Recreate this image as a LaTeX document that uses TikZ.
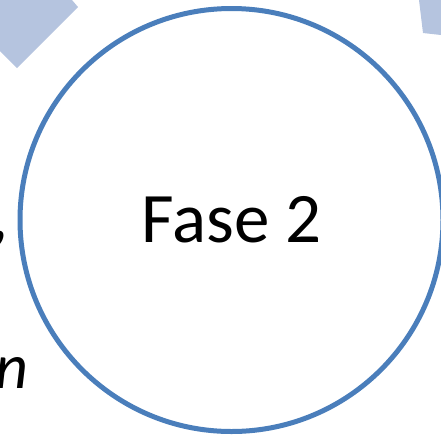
\documentclass[tikz,border=0pt]{standalone}
\usepackage{fontspec}
\setmainfont{Carlito}
\usepackage{tikz}
\usetikzlibrary{positioning}
\definecolor{phaseblue}{RGB}{74,126,187}
\definecolor{arrowblue}{RGB}{181,196,223}
\tikzstyle{phase}=[circle, draw=phaseblue, line width=5pt, minimum size=423pt, inner sep=0pt, font=\fontsize{71}{85}\selectfont]
\tikzstyle{arrowpart}=[fill=arrowblue, draw=none]
\tikzstyle{cuttext}=[inner sep=0pt, font=\fontsize{64}{76}\selectfont]

\begin{document}
\begin{tikzpicture}[x=1pt, y=-1pt]
      \useasboundingbox (0,0) rectangle (441,437);
      \clip (0,0) rectangle (441,437);

      % arrow pieces of the cycle, cut by the frame
      \fill[arrowpart] (-10,0) -- (72,0) -- (78,7) -- (17,68) -- (-10,41) -- cycle;
      \fill[arrowpart] (419,0) -- (423,33) -- (450,36) -- (450,0) -- cycle;

      % text of the previous phase, cut off at the left
      \node[cuttext, anchor=base east] (comma) at (10,238) {\itshape ,};
      \node[cuttext, anchor=base east] (tail)  at (29,388) {\itshape n};

      \node[phase] (fase2) at (231.5,220) {Fase 2};
\end{tikzpicture}
\end{document}
